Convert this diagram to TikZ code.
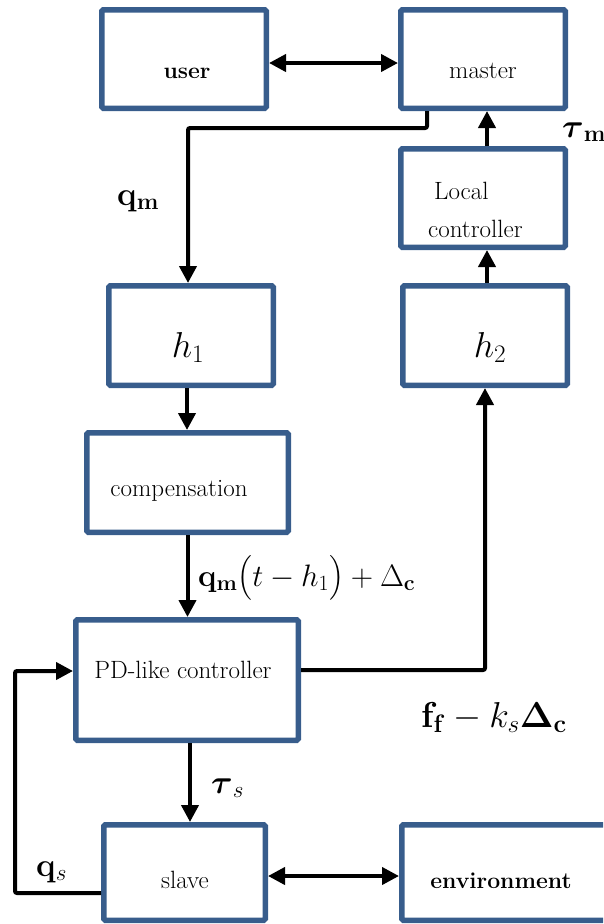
\RequirePackage{fix-cm}
\documentclass[tikz,border=0pt]{standalone}
\usepackage{amsmath}
\usetikzlibrary{arrows.meta,calc}
\definecolor{boxblue}{RGB}{56,93,140}
\begin{document}
\begin{tikzpicture}[x=1pt,y=-1pt,
  box/.style={draw=boxblue, line width=5.5pt, rounded corners=1.5pt,
    minimum width=164.5pt, minimum height=98.5pt, inner sep=0pt},
  tip/.tip={Triangle[length=17pt,width=17pt]},
  conn/.style={line width=4pt, -tip},
  biconn/.style={line width=4pt, tip-tip},
  txt/.style={font=\fontsize{25}{30}\selectfont, inner sep=0pt},
  txtb/.style={font=\fontsize{23}{28}\selectfont\bfseries, inner sep=0pt},
  mlab/.style={font=\fontsize{33}{38}\selectfont, inner sep=0pt},
  hlab/.style={font=\fontsize{36}{40}\selectfont, inner sep=0pt}]
\useasboundingbox (0,0) rectangle (603,924);
\clip (0,0) rectangle (603,924);

% boxes
\node[box] (user) at (184,59) {};
\node[box] (master) at (483,59) {};
\node[box] (lc) at (483,198) {};
\node[box, minimum height=99.5pt] (h1) at (191,335.5) {};
\node[box, minimum height=99.5pt] (h2) at (485,335.5) {};
\node[box, minimum width=201.5pt, minimum height=99.5pt] (comp) at (187.5,482.5) {};
\node[box, minimum width=222.5pt, minimum height=120.5pt] (pd) at (187,680) {};
\node[box, minimum width=161.5pt, minimum height=95.5pt] (slave) at (184.5,872.5) {};
\node[box, minimum width=207.5pt, minimum height=95.5pt] (env) at (505.5,872.5) {};

% box texts
\node[txtb, anchor=base] (tuser) at (187,78) {user};
\node[txt, anchor=base] (tmaster) at (483,78) {master};
\node[txt, anchor=base west] (tlocal) at (434,199) {Local};
\node[txt, anchor=base west] (tctrl) at (428,237) {controller};
\node[hlab, anchor=base] (th1) at (188,357) {$h_1$};
\node[hlab, anchor=base] (th2) at (490,357) {$h_2$};
\node[txt, anchor=base] (tcomp) at (179,496) {compensation};
\node[txt, anchor=base] (tpd) at (183,678) {PD-like controller};
\node[txt, anchor=base] (tslave) at (185,888) {slave};
\node[txtb, anchor=base] (tenv) at (501,888) {environment};

% connectors
\draw[biconn] ([yshift=-4pt]user.east) -- ([yshift=-4pt]master.west);
\draw[conn, rounded corners=2pt] ([xshift=-56pt]master.south) -- ++(0,17) -| ([xshift=-3pt]h1.north);
\draw[conn] ([xshift=4pt]lc.north) -- ([xshift=4pt]master.south);
\draw[conn] ([xshift=2pt]h2.north) -- ([xshift=2pt]h2.north |- lc.south);
\draw[conn] ([xshift=-4pt]h1.south) -- ([xshift=-4pt]h1.south |- comp.north);
\draw[conn] (comp.south) -- (comp.south |- pd.north);
\draw[conn, rounded corners=2pt] ([yshift=10pt]pd.east) -| (h2.south);
\draw[conn] ([xshift=3pt]pd.south) -- ([xshift=3pt]pd.south |- slave.north);
\draw[biconn] ([yshift=-3.5pt]slave.east) -- ([yshift=-3.5pt]slave.east -| env.west);
\draw[conn, rounded corners=2pt] ([yshift=-20.5pt]slave.west) -- ++(-86,0) |- ([yshift=9pt]pd.west);

% signal labels
\node[mlab, anchor=base west] (lqm) at (117,205) {$\mathbf{q}_{\mathbf{m}}$};
\node[mlab, anchor=base west] (ltaum) at (562,137) {$\boldsymbol{\tau}_{\mathbf{m}}$};
\node[font=\fontsize{31}{36}\selectfont, inner sep=0pt, anchor=base west] (lqmt) at (198,586) {$\mathbf{q}_{\mathbf{m}}\big(t-h_1\big)+\Delta_{\mathbf{c}}$};
\node[font=\fontsize{36}{40}\selectfont, inner sep=0pt, anchor=base west] (lff) at (421,727) {$\mathbf{f}_{\mathbf{f}}-k_s\boldsymbol{\Delta}_{\mathbf{c}}$};
\node[mlab, anchor=base west] (ltaus) at (211,793) {$\boldsymbol{\tau}_s$};
\node[mlab, anchor=base west] (lqs) at (36,876) {$\mathbf{q}_s$};
\end{tikzpicture}
\end{document}
